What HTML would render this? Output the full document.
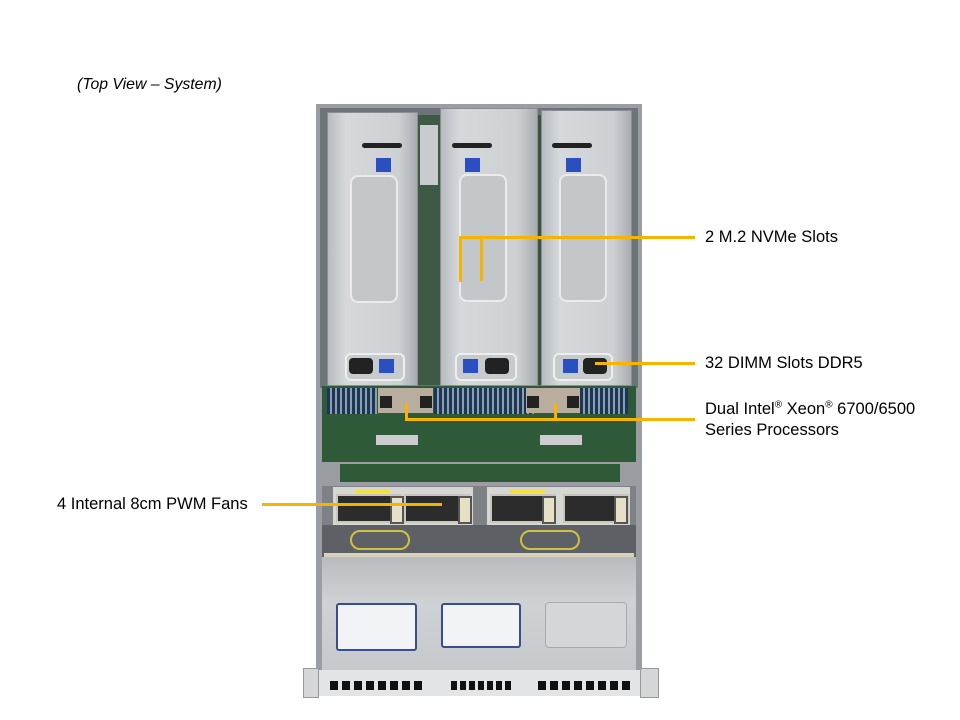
<!DOCTYPE html>
<html><head><style>
body{margin:0;width:960px;height:720px;background:#fff;position:relative;overflow:hidden;font-family:"Liberation Sans",Arial,sans-serif;}
div{position:absolute;box-sizing:border-box;}
.t{font-size:16.5px;line-height:19px;color:#000;white-space:nowrap;}
.y{background:#f5b400;}
.riser{background:linear-gradient(90deg,#b8bcc0,#d6d9dc 20%,#cdd0d3 80%,#a8acb0);border:1px solid #8a8e92;}
.win{border:2px solid #e9ebec;border-radius:8px;background:#c4c7ca;}
.blue{background:#2a4fc0;width:15px;height:14px;}
.fan{background:#2c2c2c;border:2px solid #c9c7bd;}
.clip{background:#e6e0c4;width:14px;height:28px;border:2px solid #555;}
.lbl{background:#f1f3f6;border:2px solid #3a4d8c;border-radius:3px;}
.vent{background:#111;height:9px;top:681px;}
</style></head><body>
<div class="t" style="left:77px;top:75px;font-size:15.8px;font-style:italic;">(Top View – System)</div>

<div style="left:316px;top:104px;width:326px;height:566px;background:#9a9ea2;"></div>
<div style="left:320px;top:108px;width:318px;height:280px;background:#6d7478;"></div>
<div style="left:418px;top:115px;width:22px;height:270px;background:#3e5a45;"></div>
<div style="left:534px;top:115px;width:8px;height:270px;background:#3a5440;"></div>
<div style="left:420px;top:125px;width:18px;height:60px;background:#c9cccf;"></div>

<div class="riser" style="left:327px;top:112px;width:91px;height:274px;"></div>
<div class="riser" style="left:440px;top:108px;width:98px;height:278px;"></div>
<div class="riser" style="left:541px;top:110px;width:91px;height:276px;"></div>
<div class="win" style="left:350px;top:175px;width:48px;height:128px;"></div>
<div class="win" style="left:459px;top:174px;width:48px;height:128px;"></div>
<div class="win" style="left:559px;top:174px;width:48px;height:128px;"></div>
<div style="left:362px;top:143px;width:40px;height:5px;background:#222;border-radius:3px;"></div>
<div style="left:452px;top:143px;width:40px;height:5px;background:#222;border-radius:3px;"></div>
<div style="left:552px;top:143px;width:40px;height:5px;background:#222;border-radius:3px;"></div>
<div class="blue" style="left:376px;top:158px;"></div>
<div class="blue" style="left:465px;top:158px;"></div>
<div class="blue" style="left:566px;top:158px;"></div>
<div style="left:345px;top:353px;width:60px;height:28px;border:2px solid #eee;border-radius:6px;background:#c8cbce;"></div>
<div style="left:349px;top:358px;width:24px;height:16px;background:#222;border-radius:4px;"></div>
<div class="blue" style="left:379px;top:359px;"></div>
<div style="left:455px;top:353px;width:62px;height:28px;border:2px solid #eee;border-radius:6px;background:#c8cbce;"></div>
<div class="blue" style="left:463px;top:359px;"></div>
<div style="left:485px;top:358px;width:24px;height:16px;background:#222;border-radius:4px;"></div>
<div style="left:553px;top:353px;width:60px;height:28px;border:2px solid #eee;border-radius:6px;background:#c8cbce;"></div>
<div class="blue" style="left:563px;top:359px;"></div>
<div style="left:583px;top:358px;width:24px;height:16px;background:#222;border-radius:4px;"></div>

<div style="left:322px;top:386px;width:314px;height:76px;background:#2f5a3a;"></div>
<div style="left:327px;top:388px;width:50px;height:26px;background:repeating-linear-gradient(90deg,#1d3559 0 3px,#8aa0a8 3px 5px);"></div>
<div style="left:434px;top:388px;width:100px;height:26px;background:repeating-linear-gradient(90deg,#1d3559 0 3px,#8aa0a8 3px 5px);"></div>
<div style="left:580px;top:388px;width:48px;height:26px;background:repeating-linear-gradient(90deg,#1d3559 0 3px,#8aa0a8 3px 5px);"></div>
<div style="left:378px;top:388px;width:55px;height:25px;background:#b9ad9d;"></div>
<div style="left:526px;top:388px;width:54px;height:25px;background:#b9ad9d;"></div>
<div style="left:380px;top:396px;width:12px;height:12px;background:#222;"></div>
<div style="left:420px;top:396px;width:12px;height:12px;background:#222;"></div>
<div style="left:527px;top:396px;width:12px;height:12px;background:#222;"></div>
<div style="left:567px;top:396px;width:12px;height:12px;background:#222;"></div>
<div style="left:376px;top:435px;width:42px;height:10px;background:#ccc;"></div>
<div style="left:540px;top:435px;width:42px;height:10px;background:#ccc;"></div>
<div style="left:322px;top:462px;width:314px;height:24px;background:#9a9ea2;"></div>
<div style="left:340px;top:464px;width:280px;height:18px;background:#2e5a38;"></div>
<div style="left:322px;top:486px;width:314px;height:42px;background:#7e8286;"></div>
<div style="left:333px;top:487px;width:140px;height:38px;background:#d6d6d2;"></div>
<div style="left:487px;top:487px;width:143px;height:38px;background:#d6d6d2;"></div>
<div style="left:355px;top:489px;width:35px;height:4px;background:#f0e040;"></div>
<div style="left:510px;top:489px;width:35px;height:4px;background:#f0e040;"></div>
<div class="fan" style="left:336px;top:494px;width:66px;height:29px;"></div>
<div class="fan" style="left:404px;top:494px;width:66px;height:29px;"></div>
<div class="fan" style="left:490px;top:494px;width:66px;height:29px;"></div>
<div class="fan" style="left:563px;top:494px;width:66px;height:29px;"></div>
<div class="clip" style="left:390px;top:496px;"></div>
<div class="clip" style="left:458px;top:496px;"></div>
<div class="clip" style="left:542px;top:496px;"></div>
<div class="clip" style="left:614px;top:496px;"></div>
<div style="left:322px;top:525px;width:314px;height:32px;background:#5d6165;"></div>
<div style="left:350px;top:530px;width:60px;height:20px;border:2px solid #d0c040;border-radius:10px;"></div>
<div style="left:520px;top:530px;width:60px;height:20px;border:2px solid #d0c040;border-radius:10px;"></div>
<div style="left:324px;top:553px;width:310px;height:4px;background:#d8d0b8;"></div>
<div style="left:322px;top:557px;width:314px;height:115px;background:linear-gradient(#b9bcbf,#cfd2d5 40%,#c6c9cc);"></div>
<div class="lbl" style="left:336px;top:603px;width:81px;height:48px;"></div>
<div class="lbl" style="left:441px;top:603px;width:80px;height:45px;"></div>
<div style="left:545px;top:602px;width:82px;height:46px;border:1px solid #aaa;border-radius:4px;background:#d4d7da;"></div>
<div style="left:316px;top:670px;width:326px;height:26px;background:#e2e4e6;"></div>
<div style="left:303px;top:668px;width:16px;height:30px;background:#d4d6d8;border:1px solid #999;"></div>
<div style="left:640px;top:668px;width:19px;height:30px;background:#d4d6d8;border:1px solid #999;"></div>
<div class="vent" style="left:330px;width:92px;background:repeating-linear-gradient(90deg,#111 0 8px,transparent 8px 12px);"></div>
<div class="vent" style="left:451px;width:62px;background:repeating-linear-gradient(90deg,#111 0 6px,transparent 6px 9px);"></div>
<div class="vent" style="left:538px;width:94px;background:repeating-linear-gradient(90deg,#111 0 8px,transparent 8px 12px);"></div>

<div class="y" style="left:459px;top:236px;width:236px;height:3px;"></div>
<div class="y" style="left:459px;top:236px;width:3px;height:46px;"></div>
<div class="y" style="left:480px;top:236px;width:3px;height:45px;"></div>
<div class="t" style="left:705px;top:228px;">2 M.2 NVMe Slots</div>

<div class="y" style="left:595px;top:362px;width:100px;height:3px;"></div>
<div class="t" style="left:705px;top:354px;">32 DIMM Slots DDR5</div>

<div class="y" style="left:405px;top:418px;width:290px;height:3px;"></div>
<div class="y" style="left:405px;top:403px;width:3px;height:17px;"></div>
<div class="y" style="left:554px;top:403px;width:3px;height:17px;"></div>
<div class="t" style="left:705px;top:400px;">Dual Intel<sup style="font-size:10px;line-height:0">®</sup> Xeon<sup style="font-size:10px;line-height:0">®</sup> 6700/6500</div>
<div class="t" style="left:705px;top:421px;">Series Processors</div>

<div class="y" style="left:262px;top:503px;width:180px;height:3px;"></div>
<div class="t" style="left:57px;top:495px;">4 Internal 8cm PWM Fans</div>
</body></html>
